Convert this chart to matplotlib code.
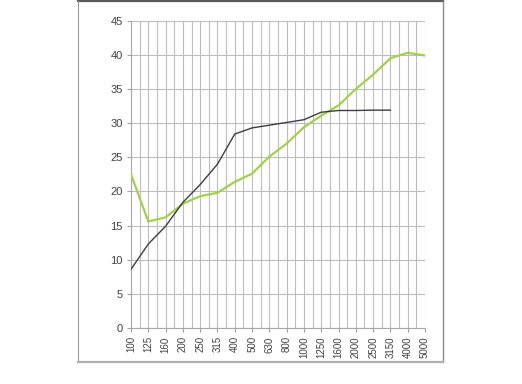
import matplotlib
matplotlib.use("Agg")
import matplotlib.pyplot as plt
from matplotlib.lines import Line2D

plt.rcParams['font.family'] = ['Liberation Sans', 'DejaVu Sans']

categories = ["100", "125", "160", "200", "250", "315", "400", "500", "630", "800",
              "1000", "1250", "1600", "2000", "2500", "3150", "4000", "5000"]
green_values = [22.5, 15.6, 16.2, 18.2, 19.3, 19.8, 21.4, 22.6, 25.1, 27.0,
                29.4, 31.1, 32.6, 35.0, 37.1, 39.5, 40.3, 39.9]
black_values = [8.6, 12.3, 14.9, 18.4, 21.0, 24.0, 28.4, 29.3, 29.7, 30.1,
                30.5, 31.6, 31.85, 31.85, 31.9, 31.9]
y_ticks = [0, 5, 10, 15, 20, 25, 30, 35, 40, 45]

fig = plt.figure(figsize=(5.22, 3.84), dpi=100)
fig.patch.set_facecolor("white")

# outer frame
W, H = 522, 384
def fx(px): return px / W
def fy(py): return 1 - py / H
fig.add_artist(Line2D([fx(78), fx(443)], [fy(1), fy(1)], color="#5a5a5a", lw=1.6, transform=fig.transFigure))
fig.add_artist(Line2D([fx(443), fx(443)], [fy(1), fy(362)], color="#8a8a8a", lw=1.0, transform=fig.transFigure))
fig.add_artist(Line2D([fx(78), fx(78)], [fy(1), fy(362)], color="#9a9a9a", lw=0.8, transform=fig.transFigure))
fig.add_artist(Line2D([fx(78), fx(443)], [fy(362), fy(362)], color="#b0b0b0", lw=1.6, transform=fig.transFigure))

ax = fig.add_axes([fx(131), fy(328), fx(425) - fx(131), fy(20.7) - fy(328)])
x = list(range(len(categories)))
ax.plot(x, green_values, color="#a2d04a", lw=1.6, zorder=3)
ax.plot(x[:len(black_values)], black_values, color="#3c3c44", lw=1.0, zorder=4)

ax.set_xlim(0, len(categories) - 1)
ax.set_ylim(0, 45)
ax.set_yticks(y_ticks)
ax.set_xticks(x)
ax.set_xticklabels(categories, rotation=90, fontsize=7, color="#404040")
ax.set_xticks([i + 0.5 for i in x[:-1]], minor=True)
ax.tick_params(axis="y", labelsize=8, labelcolor="#404040", length=3, color="#a0a0a0", pad=3)
ax.tick_params(axis="x", which="major", length=3, color="#a0a0a0", pad=3)
ax.tick_params(axis="x", which="minor", length=0)
ax.grid(True, axis="both", which="major", color="#bdbdbd", lw=0.8)
ax.grid(True, axis="x", which="minor", color="#bdbdbd", lw=0.8)
for s in ["top", "right"]:
    ax.spines[s].set_visible(False)
for s in ["left", "bottom"]:
    ax.spines[s].set_color("#a8a8a8")
    ax.spines[s].set_linewidth(0.8)
ax.set_axisbelow(True)

fig.savefig("out.png", dpi=100)
